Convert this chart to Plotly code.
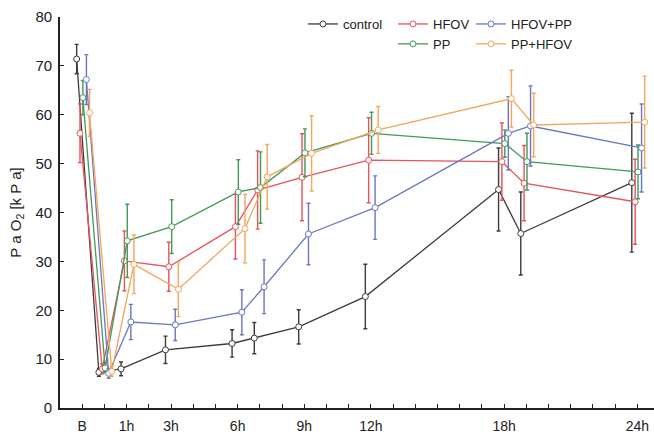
import plotly.graph_objects as go

# Time points (hours; B = baseline plotted at -1)
hours = [-1, 0, 1, 3, 6, 7, 9, 12, 18, 19, 24]

tick_hours = list(range(-1, 25))
label_hours = [-1, 1, 3, 6, 9, 12, 18, 24]
label_text = ["B", "1h", "3h", "6h", "9h", "12h", "18h", "24h"]

series_names = ["control", "HFOV", "PP", "HFOV+PP", "PP+HFOV"]

control_mean = [71.4, 7.3, 8.0, 11.9, 13.2, 14.3, 16.6, 22.8, 44.7, 35.7, 46.1]
control_err = [3.0, 0.8, 1.4, 2.8, 2.8, 3.2, 3.5, 6.6, 8.5, 8.5, 14.2]

hfov_mean = [56.2, 8.0, 30.1, 28.9, 37.1, 44.6, 47.2, 50.7, 50.4, 46.0, 42.2]
hfov_err = [6.0, 1.0, 6.1, 5.0, 6.6, 8.0, 8.9, 8.7, 7.9, 7.7, 8.7]

pp_mean = [63.5, 8.2, 34.2, 37.1, 44.2, 45.1, 52.2, 56.2, 54.1, 50.4, 48.3]
pp_err = [3.5, 1.0, 7.5, 5.5, 6.6, 7.3, 4.9, 4.3, 2.8, 5.8, 5.5]

hfovpp_mean = [67.2, 7.1, 17.6, 17.0, 19.6, 24.8, 35.6, 41.0, 56.2, 57.7, 53.2]
hfovpp_err = [5.1, 1.0, 3.6, 3.2, 4.6, 5.5, 6.3, 6.5, 7.5, 8.2, 9.0]

pphfov_mean = [60.4, 7.5, 29.4, 24.3, 36.7, 47.3, 52.1, 56.9, 63.3, 57.9, 58.5]
pphfov_err = [4.8, 1.0, 6.0, 5.6, 7.0, 6.6, 7.7, 4.8, 5.8, 6.5, 9.4]

means = [control_mean, hfov_mean, pp_mean, hfovpp_mean, pphfov_mean]
errs = [control_err, hfov_err, pp_err, hfovpp_err, pphfov_err]

# styling
colors = ["#3c3c3c", "#e6545c", "#43995a", "#6c77c2", "#f4a65c"]
dodge = [-0.25, -0.1, 0.03, 0.19, 0.33]
legend_ids = ["legend", "legend2", "legend2", "legend3", "legend3"]

FONT = "Liberation Sans Narrow, Arial Narrow, Liberation Sans, Arial, sans-serif"

fig = go.Figure()
for name, m, e, c, d, lg in zip(series_names, means, errs, colors, dodge, legend_ids):
    fig.add_trace(go.Scatter(
        x=[h + d for h in hours], y=m, name=name, mode="lines+markers",
        line=dict(color=c, width=1.3),
        marker=dict(symbol="circle", size=6, color="white", line=dict(color=c, width=1)),
        error_y=dict(type="data", array=e, color=c, thickness=1.4, width=2),
        legend=lg,
    ))

ticktext = [label_text[label_hours.index(h)] if h in label_hours else "" for h in tick_hours]

L, T, B, R = 60, 17, 28, 0
PW, PH = 654 - L - R, 436 - T - B


def px(x):
    return (x - L) / PW


def py(y):
    return (436 - B - y) / PH


legend_common = dict(
    xanchor="left", yanchor="top",
    bgcolor="rgba(0,0,0,0)", font=dict(family=FONT, size=13, color="#222"),
    itemwidth=30, tracegroupgap=0,
)

fig.update_layout(
    width=654, height=436,
    margin=dict(l=L, r=R, t=T, b=B, autoexpand=False),
    paper_bgcolor="white", plot_bgcolor="white",
    font=dict(family=FONT, size=14, color="#222"),
    xaxis=dict(
        range=[-2, 24.75], tickmode="array", tickvals=tick_hours, ticktext=ticktext,
        ticks="inside", ticklen=4, tickcolor="#222", tickwidth=1,
        showline=True, linecolor="#222", linewidth=1.6, showgrid=False, zeroline=False,
        tickfont=dict(family=FONT, size=14, color="#222"), ticklabelstandoff=4,
    ),
    yaxis=dict(
        range=[0, 80], dtick=10, ticks="inside", ticklen=4, tickcolor="#222", tickwidth=1,
        showline=True, linecolor="#222", linewidth=1.6, showgrid=False, zeroline=False,
        tickfont=dict(family=FONT, size=15, color="#222"), ticklabelstandoff=3,
        title=dict(text="P a O<sub>2</sub> [k P a]", standoff=10,
                   font=dict(family=FONT, size=15, color="#222")),
    ),
    legend=dict(x=px(303), y=py(9), **legend_common),
    legend2=dict(x=px(393), y=py(9), **legend_common),
    legend3=dict(x=px(471), y=py(9), **legend_common),
    showlegend=True,
)

fig.write_html("out.html")
